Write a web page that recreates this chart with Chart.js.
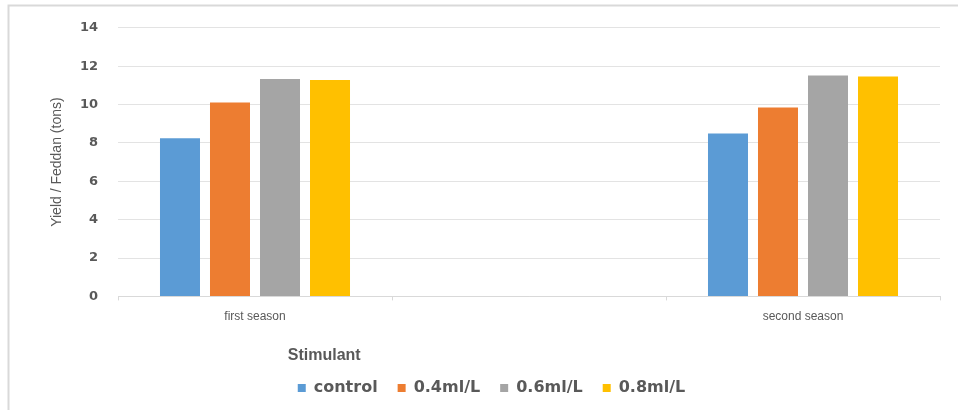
<!DOCTYPE html>
<html>
<head>
<meta charset="utf-8">
<script src="https://cdn.jsdelivr.net/npm/chart.js@4/dist/chart.umd.min.js"></script>
<style>
  html, body { margin: 0; padding: 0; background: #fff; }
  #wrap { position: relative; width: 958px; height: 410px; }
</style>
</head>
<body>
<div id="wrap"><canvas id="chart" width="958" height="410"></canvas></div>
<script>
// Yield per feddan (tons) by stimulant dose, two seasons
const seasons = ['first season', '', 'second season'];
const control = [8.24, null, 8.49];
const dose04 = [10.11, null, 9.85];
const dose06 = [11.33, null, 11.52];
const dose08 = [11.28, null, 11.46];
const seriesNames = ['control', '0.4ml/L', '0.6ml/L', '0.8ml/L'];
const seriesColors = ['#5B9BD5', '#ED7D31', '#A5A5A5', '#FFC000'];
const yMin = 0, yMax = 14, yStep = 2;

const textGray = '#595959';
const gridGray = '#e3e3e3';

// light frame along the top and left edges
const framePlugin = {
  id: 'frame',
  beforeDraw(chart) {
    const ctx = chart.ctx;
    ctx.save();
    ctx.fillStyle = '#ffffff';
    ctx.fillRect(0, 0, chart.width, chart.height);
    ctx.strokeStyle = '#d9d9d9';
    ctx.lineWidth = 2;
    ctx.beginPath();
    ctx.moveTo(8.5, chart.height);
    ctx.lineTo(8.5, 5.5);
    ctx.lineTo(chart.width, 5.5);
    ctx.stroke();
    ctx.restore();
  }
};

const seriesData = [control, dose04, dose06, dose08];

new Chart(document.getElementById('chart'), {
  type: 'bar',
  data: {
    labels: seasons,
    datasets: seriesNames.map((name, i) => ({
      label: name,
      data: seriesData[i],
      backgroundColor: seriesColors[i],
      borderWidth: 0,
      categoryPercentage: 0.73,
      barPercentage: 0.8
    }))
  },
  options: {
    responsive: false,
    devicePixelRatio: 1,
    animation: false,
    layout: { padding: { left: 43, right: 18, top: 26, bottom: 4 } },
    plugins: {
      tooltip: { enabled: false },
      legend: {
        position: 'bottom',
        align: 'center',
        labels: {
          boxWidth: 8,
          boxHeight: 8,
          padding: 20,
          color: textGray,
          font: { family: 'DejaVu Sans', size: 16, weight: 'bold' }
        },
        title: {
          display: true,
          text: 'Stimulant',
          position: 'start',
          color: textGray,
          padding: { top: 15, bottom: -7 },
          font: { family: 'Liberation Sans', size: 16, weight: 'bold' }
        }
      }
    },
    scales: {
      x: {
        grid: {
          display: true,
          drawOnChartArea: false,
          drawTicks: true,
          tickLength: 4,
          color: '#d9d9d9'
        },
        border: { display: true, color: '#d9d9d9', width: 1 },
        ticks: {
          color: textGray,
          padding: 9,
          maxRotation: 0,
          font: { family: 'Liberation Sans', size: 12 }
        }
      },
      y: {
        min: yMin,
        max: yMax,
        ticks: {
          stepSize: yStep,
          color: textGray,
          padding: 20,
          font: { family: 'DejaVu Sans', size: 13, weight: 'bold' }
        },
        grid: { color: gridGray, drawTicks: false },
        border: { display: false },
        title: {
          display: true,
          text: 'Yield / Feddan (tons)',
          color: textGray,
          padding: { top: 6, bottom: 0 },
          font: { family: 'Liberation Sans', size: 14 }
        },
        afterFit(scale) { scale.width = 75; }
      }
    }
  },
  plugins: [framePlugin]
});
</script>
</body>
</html>
